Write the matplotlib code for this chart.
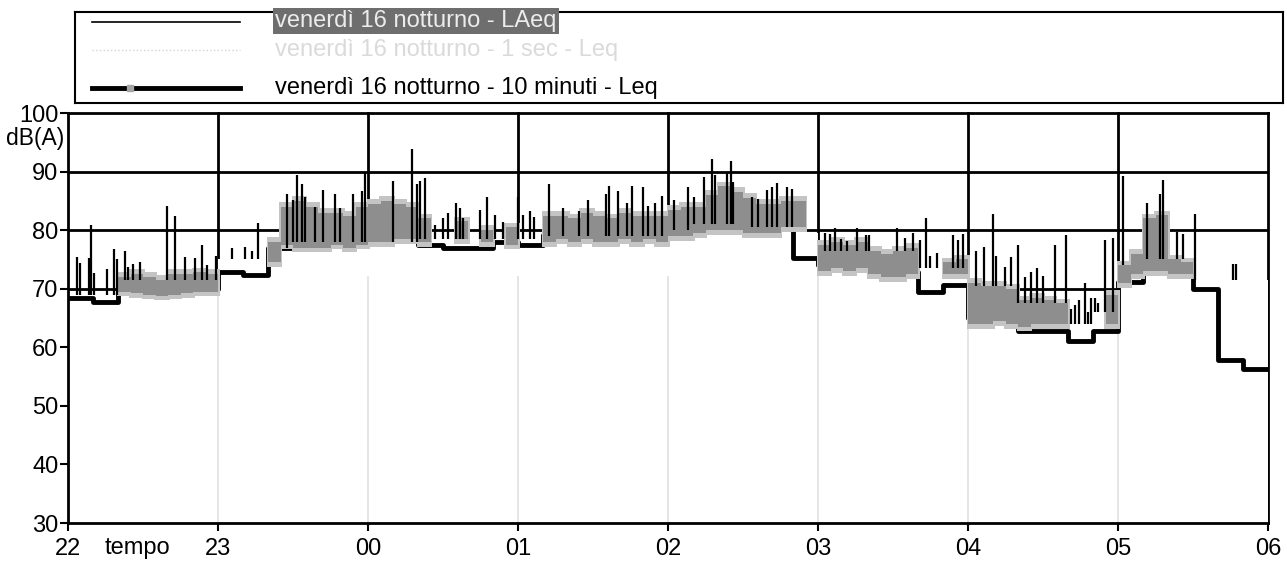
import numpy as np
import matplotlib.pyplot as plt
import matplotlib.transforms as mtransforms

plt.rcParams['font.family'] = ['Liberation Sans', 'DejaVu Sans']

# x axis: minutes after 22:00
hour_ticks = [0, 60, 120, 180, 240, 300, 360, 420, 480]
hour_labels = ['22', '23', '00', '01', '02', '03', '04', '05', '06']

# 10 minute Leq (black thick step), one value per 10 min, 22:00 -> 06:00
leq10 = [68.5, 67.8, 69.5, 69.8, 69.5, 70.0,
         72.9, 72.3, 77.0, 79.5, 80.0, 79.5,
         80.0, 80.5, 77.4, 76.9, 76.9, 78.0,
         77.5, 79.2, 79.0, 79.3, 79.5, 79.5,
         79.7, 81.0, 81.0, 79.7, 80.5, 75.2,
         74.0, 74.0, 73.0, 72.8, 69.5, 70.7,
         65.0, 65.0, 62.7, 62.7, 61.1, 62.8,
         71.1, 72.8, 72.5, 70.0, 57.8, 56.3]

# base level of the short LAeq trace (area under it hides the grid)
laeq_base = [69, 69, 71.5, 71.5, 71.5, 71.5,
             75, 75, 77, 78, 78, 78,
             78, 78, 78.5, 78.5, 78.5, 78.5,
             78.5, 79, 79, 79, 79, 79,
             80, 81, 81, 80.5, 80.5, 79.5,
             76.5, 76.5, 76.5, 76.5, 73.5, 73.5,
             70.5, 70.5, 67.5, 67.5, 64, 66,
             74, 75, 75, 71.5, 71.5, 71.5]

nan = np.nan
# grey band, 5 minute resolution (low / high edge)
band_lo = [nan, nan, nan, nan, 69.5, 69.2, 69.0, 68.8, 69.0, 69.3, 69.5, 69.5,
           nan, nan, nan, nan, 74.5, 77.5, 77, 77, 77, 77.5, 77, 77.5,
           78, 78, 78.5, 78.5, 78, nan, nan, 78.5, nan, 78, nan, 77.5,
           nan, nan, 78, 78.5, 78, 78.5, 78, 78, 78.5, 78, 78.5, 78,
           79, 79, 79.5, 80, 80, 80, 79.5, 79.5, 79.5, 80.5, 80.5, nan,
           73, 73.5, 73, 73.5, 72.5, 72, 72, 72.5, nan, nan, 72.5, 72.5,
           64, 64, 64.5, 64, 63.5, 64, 64, 64, nan, nan, nan, 64,
           71, 72.5, 73, 73, 72.5, 72.5, nan, nan, nan, nan, nan, nan]
band_hi = [nan, nan, nan, nan, 72.0, 72.5, 72.0, 71.5, 72.5, 72.5, 72.8, 72.5,
           nan, nan, nan, nan, 78, 84, 85, 84, 83, 83, 82.5, 84,
           84.5, 85, 84.5, 84, 82, nan, nan, 81.5, nan, 80, nan, 80.5,
           nan, nan, 82.5, 82.5, 82, 83, 82.5, 82, 83, 82.5, 82.5, 82.5,
           83.5, 84, 84, 86, 87.5, 86.5, 85.5, 84.5, 84.5, 85, 85, nan,
           77.5, 78, 77.5, 78, 76.5, 76, 76.5, 77, nan, nan, 74.5, 75,
           71, 70.5, 70.5, 70, 68, 68.5, 68, 67.5, nan, nan, nan, 69,
           74, 76, 82, 82.5, 75, 74.5, nan, nan, nan, nan, nan, nan]

# LAeq peaks (minutes after 22:00, dB)
spike_t = [3.6, 4.8, 8.4, 9.2, 10.4, 15.6, 18.4, 19.6, 22.8, 24.0, 26.0, 28.8,
           39.6, 42.8, 46.8, 50.8, 53.6, 55.6, 59.2,
           65.6, 70.8, 73.6, 76.0, 87.6, 90.0, 91.6, 93.6, 94.8, 98.8, 102.0,
           106.8, 108.8, 114.0, 117.6, 118.8,
           130.0, 137.6, 139.6, 140.8, 142.8, 146.8, 150.0, 152.0, 155.2, 156.8,
           158.0, 164.8, 167.6, 170.8, 174.0,
           180.0, 182.0, 184.8, 186.4, 192.4, 198.0, 204.4, 208.0, 215.2, 216.4,
           220.0, 223.6, 225.6, 230.0, 232.0, 234.8, 237.6,
           242.4, 248.0, 250.4, 254.4, 257.6, 258.8, 263.6, 265.2, 266.0, 273.6,
           276.0, 279.6, 281.6, 283.6, 287.6, 289.6,
           302.8, 304.8, 306.8, 309.2, 311.6, 315.6, 319.2, 320.4, 331.6, 334.8,
           338.0, 340.8, 343.2, 344.8, 347.6, 354.0, 356.0, 358.0,
           363.2, 366.4, 370.0, 371.2, 374.8, 377.2, 380.0, 382.8, 385.2, 387.6,
           390.0, 394.8, 399.2, 401.0, 402.8, 404.5, 406.8, 408.0, 409.2, 410.8,
           412.0, 414.8, 418.0,
           422.0, 431.6, 436.8, 438.0, 443.6, 446.0, 450.8, 466.0, 467.2]
spike_db = [75.4, 74.4, 75.3, 80.9, 72.7, 73.3, 76.7, 75.0, 76.4, 73.7, 74.2, 74.5,
            84.2, 82.5, 75.5, 75.2, 77.4, 74.0, 75.6,
            76.9, 77.2, 76.5, 81.3, 86.1, 85.1, 89.5, 87.8, 85.6, 83.9, 86.9,
            86.2, 83.7, 86.2, 86.6, 89.7,
            88.4, 93.9, 87.9, 88.4, 88.9, 80.8, 82.0, 83.0, 84.7, 83.7,
            82.0, 83.4, 85.6, 82.6, 81.4,
            85.7, 82.6, 83.2, 82.3, 87.8, 83.8, 83.3, 85.2, 86.1, 87.6,
            86.6, 84.6, 87.5, 87.3, 84.1, 84.6, 85.8,
            85.2, 87.3, 85.7, 89.0, 92.1, 89.4, 89.9, 91.8, 88.2, 85.7,
            85.3, 86.9, 87.4, 88.1, 87.4, 87.1,
            79.5, 79.4, 80.4, 78.5, 78.2, 80.4, 79.1, 79.1, 80.3, 78.6,
            79.5, 78.3, 82.1, 75.6, 76.1, 79.2, 78.4, 79.3,
            76.4, 77.1, 82.7, 75.6, 73.7, 75.4, 77.5, 72.0, 72.9, 73.6,
            72.1, 77.4, 79.1, 66.5, 67.2, 68.0, 71.0, 66.0, 68.4, 68.4,
            67.5, 78.3, 78.7,
            89.3, 84.7, 86.1, 88.5, 79.7, 79.4, 82.8, 74.3, 74.3]

W, H = 1287, 577
fig = plt.figure(figsize=(W / 100, H / 100), dpi=100)
ax = fig.add_axes([68 / W, 1 - 523 / H, 1200 / W, 410 / H])
ax.set_xlim(0, 480)
ax.set_ylim(30, 100)

t10 = np.arange(0, 481, 10)
t5 = np.arange(0, 480, 5)

# dark grid, later covered below the LAeq trace
for y in [40, 50, 60, 70, 80, 90]:
    ax.axhline(y, color='black', lw=2, zorder=1)
for t in hour_ticks[1:]:
    ax.axvline(t, color='black', lw=2, zorder=1, clip_on=False)

ax.fill_between(t10, 30, np.append(laeq_base, laeq_base[-1]), step='post',
                color='white', lw=0, zorder=2)
for t in hour_ticks[1:-1]:
    ax.axvline(t, ymax=0.6, color='#e3e3e3', lw=1.3, zorder=2.5)

ax.step(t10, np.append(leq10, leq10[-1]), where='post', color='black', lw=3.5, zorder=3)

lo = np.array(band_lo)
hi = np.array(band_hi)
ok = ~np.isnan(lo)
# soft halo + core, like the scanned grey trace
ax.bar(t5[ok] - 0.6, hi[ok] - lo[ok] + 1.6, bottom=lo[ok] - 0.8, width=6.2, align='edge',
       color='#c4c4c4', lw=0, zorder=3.8)
ax.bar(t5[ok], hi[ok] - lo[ok], bottom=lo[ok], width=5, align='edge',
       color='#8e8e8e', lw=0, zorder=4)

base_at = [laeq_base[int(t // 10)] for t in spike_t]
ax.vlines(spike_t, base_at, spike_db, color='black', lw=1.6, zorder=5)

for s in ['left', 'bottom', 'top']:
    ax.spines[s].set_linewidth(2)
    ax.spines[s].set_zorder(6)
ax.spines['right'].set_visible(False)

ax.set_yticks([30, 40, 50, 60, 70, 80, 90, 100])
ax.set_xticks(hour_ticks)
ax.set_xticklabels(hour_labels)
ax.tick_params(axis='y', length=6, width=1.5, pad=1, labelsize=17)
ax.tick_params(axis='x', length=6, width=1.5, pad=5, labelsize=17)

trans_y = mtransforms.blended_transform_factory(ax.transAxes, ax.transData)
ax.text(-0.003, 95.6, 'dB(A)', transform=trans_y, ha='right', va='center', fontsize=16.5)
trans_x = mtransforms.blended_transform_factory(ax.transData, ax.transAxes)
ax.text(27.6, -0.061, 'tempo', transform=trans_x, ha='center', va='center', fontsize=17)

# legend box
lg = fig.add_axes([75 / W, 1 - 103 / H, 1208 / W, 91 / H])
lg.set_xlim(75, 1283)
lg.set_ylim(103, 12)
lg.set_xticks([])
lg.set_yticks([])
for s in lg.spines.values():
    s.set_linewidth(1.5)
lg.plot([92, 240], [22, 22], color='black', lw=1.2)
lg.plot([92, 240], [50, 50], color='#d2d2d2', lw=1, ls=':')
lg.plot([92, 240], [88, 88], color='black', lw=3.5)
lg.plot([130], [88], marker='s', color='#a5a5a5', ms=5)
lg.text(275, 21, 'venerdì 16 notturno - LAeq', color='#ececec', fontsize=17, va='center',
        bbox=dict(facecolor='#6e6e6e', edgecolor='none', pad=1.5))
lg.text(275, 50, 'venerdì 16 notturno - 1 sec - Leq', color='#dadada', fontsize=17, va='center')
lg.text(275, 88, 'venerdì 16 notturno - 10 minuti - Leq', color='black', fontsize=17, va='center')

fig.savefig('out.png', dpi=100)
